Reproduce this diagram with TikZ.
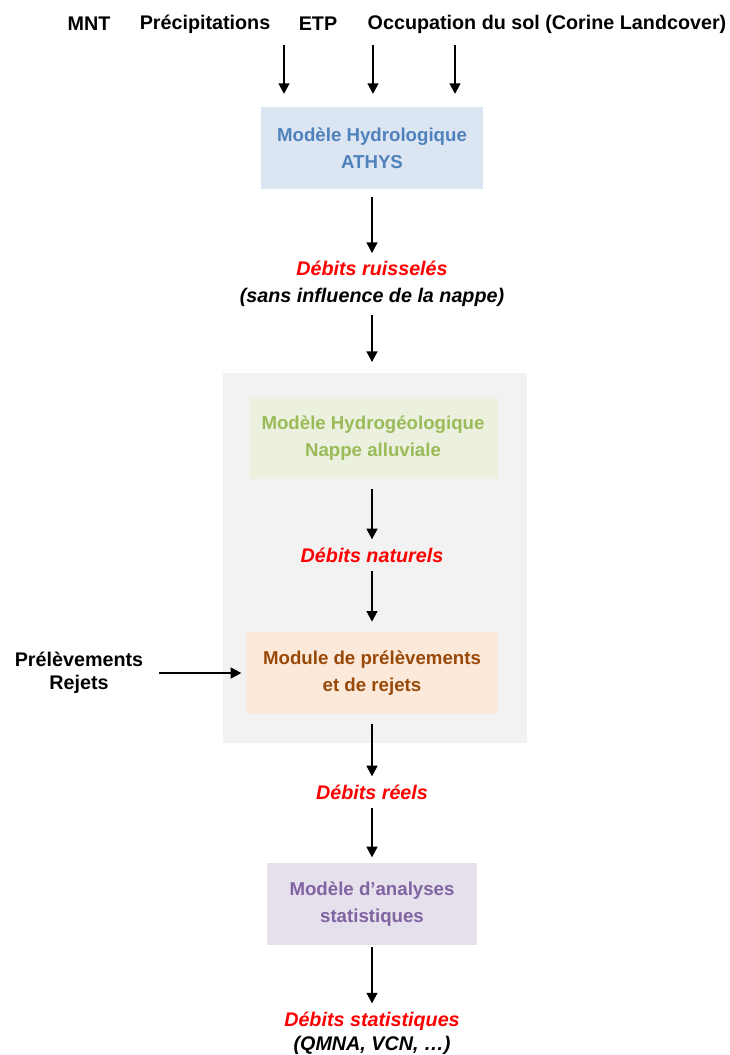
\documentclass[tikz,border=0pt]{standalone}
\usepackage{fontspec}
\setmainfont{Liberation Sans}
\usepackage{xcolor}
\usetikzlibrary{arrows.meta}
\definecolor{fondathys}{HTML}{DCE6F2}
\definecolor{texteathys}{HTML}{4F81BD}
\definecolor{fondnappe}{HTML}{EBF1DE}
\definecolor{textenappe}{HTML}{9BBB59}
\definecolor{fondprel}{HTML}{FDE9D9}
\definecolor{texteprel}{HTML}{984807}
\definecolor{fondstat}{HTML}{E5E0EC}
\definecolor{textestat}{HTML}{8064A2}
\definecolor{fondgris}{HTML}{F2F2F2}

\begin{document}
\begin{tikzpicture}[x=0.75pt,y=-0.75pt,
    fleche/.style={-{Triangle[width=8pt,length=8pt]},line width=1.6pt},
    modele/.style={align=center,inner sep=0pt,minimum height=61.5pt,
      font=\bfseries\fontsize{14}{20}\selectfont},
    debit/.style={align=center,inner sep=0pt,text=red,
      font=\bfseries\itshape\fontsize{14.8}{20}\selectfont},
    entree/.style={inner sep=0pt,font=\bfseries\fontsize{14.8}{17}\selectfont}]
        \useasboundingbox (0,0) rectangle (730,1055);
        % fond gris autour du modele de nappe
        \fill[fondgris] (223,373) rectangle (527,743);
        % donnees d'entree
        \foreach \x/\nom/\texte in {89/mnt/MNT, 205/prec/Pr\'ecipitations, 318/etp/ETP,
            547/occ/Occupation du sol (Corine Landcover)}
        \node[entree] (\nom) at (\x,24) {\texte};
        \foreach \x/\n in {284/a, 373/b, 455/c} {
            \coordinate (haut\n) at (\x,45);
            \coordinate (bas\n) at (\x,94);
            \draw[fleche] (haut\n) -- (bas\n);
        }
        % modeles
        \node[modele, fill=fondathys, text=texteathys, minimum width=166.5pt] (athys) at (372,148)
            {Mod\`ele Hydrologique\\ATHYS};
        \node[modele, fill=fondnappe, text=textenappe, minimum width=186.75pt] (nappe) at (373,438)
            {Mod\`ele Hydrog\'eologique\\Nappe alluviale};
        \node[modele, fill=fondprel, text=texteprel, minimum width=187.5pt] (module) at (372,673)
            {Module de pr\'el\`evements\\et de rejets};
        \node[modele, fill=fondstat, text=textestat, minimum width=157.5pt] (analyse) at (372,904)
            {Mod\`ele d'analyses\\statistiques};
        % debits
        \node[debit] (ruis) at (372,284) {D\'ebits ruissel\'es\\[0pt]
            \textcolor{black}{(sans influence de la nappe)}};
        \node[debit] (naturels) at (372,555) {D\'ebits naturels};
        \node[debit] (reels) at (372,792) {D\'ebits r\'eels};
        \node[debit] (stats) at (372,1033) {D\'ebits statistiques\\[-2pt]
            \textcolor{black}{(QMNA, VCN, \dots)}};
        \node[entree, align=center] (prelev) at (79,673) {Pr\'el\`evements\\Rejets};
        % fleches
        \draw[fleche, shorten <=6pt, shorten >=6pt] (athys.south) -- (ruis.north);
        \draw[fleche, shorten <=6pt, shorten >=26pt] (ruis.south) -- (ruis.south |- nappe.north);
        \draw[fleche, shorten <=7.5pt, shorten >=6pt] (naturels.north |- nappe.south) -- (naturels.north);
        \draw[fleche, shorten <=6pt, shorten >=7.5pt] (naturels.south) -- (module.north);
        \draw[fleche, shorten <=7pt, shorten >=6pt] (module.south) -- (reels.north);
        \draw[fleche, shorten <=6pt, shorten >=4pt] (reels.south) -- (analyse.north);
        \draw[fleche, shorten <=1.5pt, shorten >=6pt] (analyse.south) -- (stats.north);
        \draw[fleche, shorten <=12pt, shorten >=4pt] (prelev.east) -- (prelev.east -| module.west);
\end{tikzpicture}
\end{document}
